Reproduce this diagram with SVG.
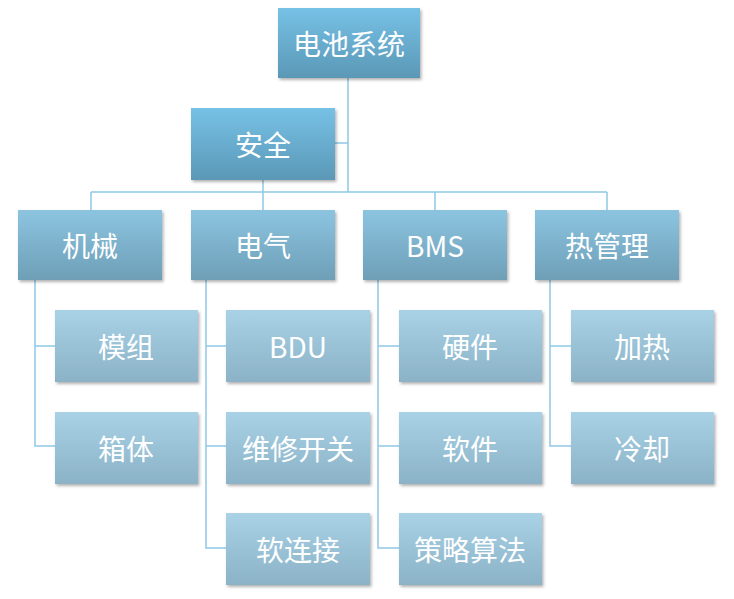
<svg xmlns="http://www.w3.org/2000/svg" width="734" height="599" viewBox="0 0 734 599">
<defs>
<linearGradient id="g1" x1="0" y1="0" x2="0" y2="1"><stop offset="0" stop-color="#76c1e6"/><stop offset="1" stop-color="#5b98b6"/></linearGradient>
<linearGradient id="g2" x1="0" y1="0" x2="0" y2="1"><stop offset="0" stop-color="#8cc4e0"/><stop offset="1" stop-color="#6e9fb7"/></linearGradient>
<linearGradient id="g3" x1="0" y1="0" x2="0" y2="1"><stop offset="0" stop-color="#a9d2e7"/><stop offset="1" stop-color="#8bb2c6"/></linearGradient>
<filter id="sh" x="-10%" y="-10%" width="130%" height="130%"><feDropShadow dx="1.5" dy="2" stdDeviation="1.5" flood-color="#000" flood-opacity="0.3"/></filter>
</defs>
<style>
.l1{fill:url(#g1);filter:url(#sh)}
.l2{fill:url(#g2);filter:url(#sh)}
.l3{fill:url(#g3);filter:url(#sh)}
text{fill:#fff;font-family:"Noto Sans CJK SC","Liberation Sans",sans-serif;font-size:28px;text-anchor:middle;dominant-baseline:central}
.c line,.c polyline{stroke:#8ec8e6;stroke-width:1.5;fill:none}
</style>
<rect width="734" height="599" fill="#fff"/>
<g class="c">
<line x1="348" y1="78" x2="348" y2="192"/>
<line x1="335" y1="143" x2="348" y2="143"/>
<line x1="91" y1="192" x2="607" y2="192"/>
<line x1="91" y1="192" x2="91" y2="210"/>
<line x1="263" y1="180" x2="263" y2="210"/>
<line x1="435" y1="192" x2="435" y2="210"/>
<line x1="607" y1="192" x2="607" y2="210"/>
<polyline points="35,280 35,446 55,446"/><line x1="35" y1="346" x2="55" y2="346"/>
<polyline points="206,280 206,548 226,548"/><line x1="206" y1="346" x2="226" y2="346"/><line x1="206" y1="446" x2="226" y2="446"/>
<polyline points="378,280 378,548 399,548"/><line x1="378" y1="346" x2="399" y2="346"/><line x1="378" y1="446" x2="399" y2="446"/>
<polyline points="550,280 550,446 571,446"/><line x1="550" y1="346" x2="571" y2="346"/>
</g>
<g id="root"><rect class="l1" x="278" y="8" width="142" height="70"/><text x="349" y="43">电池系统</text></g>
<g id="safety"><rect class="l1" x="191" y="108" width="144" height="72"/><text x="263" y="144">安全</text></g>
<g id="jixie"><rect class="l2" x="18" y="210" width="144" height="70"/><text x="90" y="245">机械</text></g>
<g id="dianqi"><rect class="l2" x="191" y="210" width="144" height="70"/><text x="263" y="245">电气</text></g>
<g id="bms"><rect class="l2" x="363" y="210" width="144" height="70"/><text x="435" y="245">BMS</text></g>
<g id="reguanli"><rect class="l2" x="535" y="210" width="144" height="70"/><text x="607" y="245">热管理</text></g>
<g id="mozu"><rect class="l3" x="55" y="310" width="143" height="72"/><text x="126" y="346">模组</text></g>
<g id="xiangti"><rect class="l3" x="55" y="412" width="143" height="72"/><text x="126" y="448">箱体</text></g>
<g id="bdu"><rect class="l3" x="226" y="310" width="144" height="72"/><text x="298" y="346">BDU</text></g>
<g id="weixiu"><rect class="l3" x="226" y="412" width="144" height="72"/><text x="298" y="448">维修开关</text></g>
<g id="ruanlianjie"><rect class="l3" x="226" y="513" width="144" height="72"/><text x="298" y="549">软连接</text></g>
<g id="yingjian"><rect class="l3" x="399" y="310" width="143" height="72"/><text x="470" y="346">硬件</text></g>
<g id="ruanjian"><rect class="l3" x="399" y="412" width="143" height="72"/><text x="470" y="448">软件</text></g>
<g id="celue"><rect class="l3" x="399" y="513" width="143" height="72"/><text x="470" y="549">策略算法</text></g>
<g id="jiare"><rect class="l3" x="571" y="310" width="143" height="72"/><text x="642" y="346">加热</text></g>
<g id="lengque"><rect class="l3" x="571" y="412" width="143" height="72"/><text x="642" y="448">冷却</text></g>
</svg>
